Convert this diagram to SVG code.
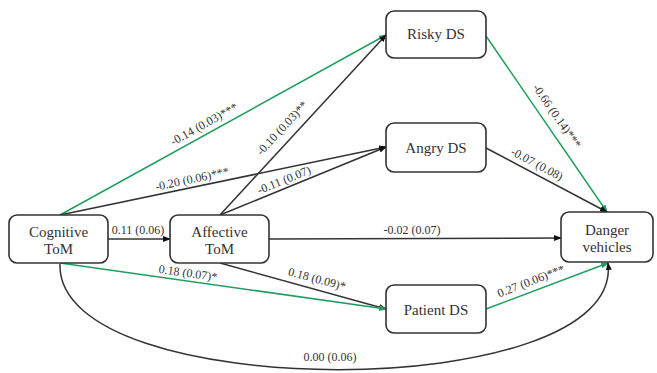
<svg xmlns="http://www.w3.org/2000/svg" width="657" height="373" viewBox="0 0 657 373">
<style>
.box{fill:#fff;stroke:#333;stroke-width:1.6}
.nt{font-family:"Liberation Serif","Times New Roman",serif;font-size:15px;fill:#333;text-anchor:middle}
.el{font-family:"Liberation Serif","Times New Roman",serif;font-size:12px;fill:#333;text-anchor:middle;dominant-baseline:central}
.k{fill:none;stroke:#333;stroke-width:1.5;marker-end:url(#ak)}
.g{fill:none;stroke:#1e9e5e;stroke-width:1.5;marker-end:url(#ag)}
</style>
<defs>
<marker id="ak" markerUnits="userSpaceOnUse" markerWidth="8" markerHeight="6" refX="7" refY="3" orient="auto"><path d="M0,0 L8,3 L0,6 z" fill="#111"/></marker>
<marker id="ag" markerUnits="userSpaceOnUse" markerWidth="8" markerHeight="6" refX="7" refY="3" orient="auto"><path d="M0,0 L8,3 L0,6 z" fill="#1e9e5e"/></marker>
</defs>
<rect width="657" height="373" fill="#fff"/>
<g id="connectors">
<path class="g" d="M60,215 L386,35"/>
<path class="g" d="M486,36 L607,212"/>
<path class="k" d="M60,215 L386,147"/>
<path class="k" d="M220,215 L386,35"/>
<path class="k" d="M220,215 L386,147"/>
<path class="k" d="M108,239 L170,239"/>
<path class="k" d="M269,239 L561,238"/>
<path class="k" d="M220,263 L386,309"/>
<path class="g" d="M60,263 L386,309"/>
<path class="k" d="M486,148 L607,212"/>
<path class="g" d="M486,309 L608,263"/>
<path class="k" d="M60,264 C55,405 625,405 608,263"/>
</g>
<g id="labels">
<text class="el" transform="translate(204,124) rotate(-29)">-0.14 (0.03)***</text>
<text class="el" transform="translate(192,179) rotate(-12)">-0.20 (0.06)***</text>
<text class="el" transform="translate(282,128) rotate(-47)">-0.10 (0.03)**</text>
<text class="el" transform="translate(284,180) rotate(-22)">-0.11 (0.07)</text>
<text class="el" x="138" y="230">0.11 (0.06)</text>
<text class="el" x="412" y="230">-0.02 (0.07)</text>
<text class="el" transform="translate(188,273) rotate(8)">0.18 (0.07)*</text>
<text class="el" transform="translate(317,279) rotate(15)">0.18 (0.09)*</text>
<text class="el" transform="translate(557,116) rotate(55)">-0.66 (0.14)***</text>
<text class="el" transform="translate(537,164) rotate(28)">-0.07 (0.08)</text>
<text class="el" transform="translate(531,281) rotate(-21)">0.27 (0.06)***</text>
<text class="el" x="330" y="357">0.00 (0.06)</text>
</g>
<g id="cognitive">
<rect class="box" x="9" y="215" width="99" height="48" rx="8"/>
<text class="nt" x="58.5" y="237">Cognitive</text>
<text class="nt" x="58.5" y="254">ToM</text>
</g>
<g id="affective">
<rect class="box" x="170" y="215" width="99" height="48" rx="8"/>
<text class="nt" x="219.5" y="237">Affective</text>
<text class="nt" x="219.5" y="254">ToM</text>
</g>
<g id="risky">
<rect class="box" x="386" y="11" width="100" height="47" rx="8"/>
<text class="nt" x="436" y="39">Risky DS</text>
</g>
<g id="angry">
<rect class="box" x="386" y="123" width="100" height="49" rx="8"/>
<text class="nt" x="436" y="153">Angry DS</text>
</g>
<g id="patient">
<rect class="box" x="386" y="285" width="100" height="48" rx="8"/>
<text class="nt" x="436" y="315">Patient DS</text>
</g>
<g id="danger">
<rect class="box" x="561" y="212" width="92" height="50" rx="8"/>
<text class="nt" x="607" y="235">Danger</text>
<text class="nt" x="607" y="252">vehicles</text>
</g>
</svg>
